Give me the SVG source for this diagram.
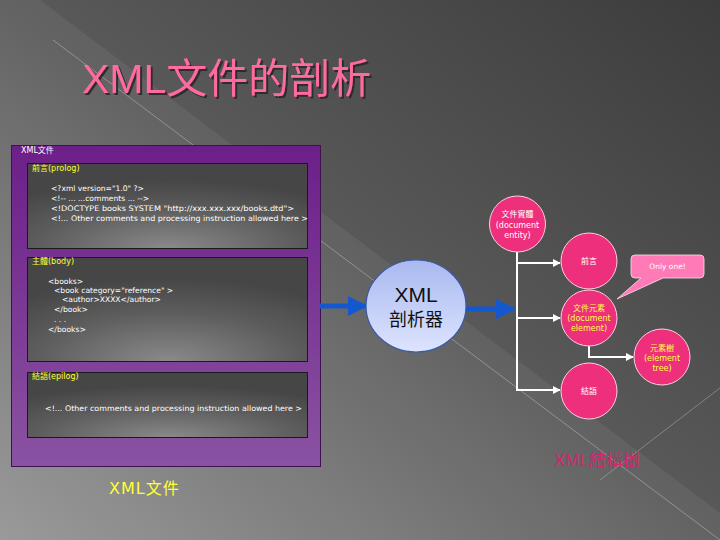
<svg xmlns="http://www.w3.org/2000/svg" width="720" height="540" viewBox="0 0 720 540">
<defs>
<linearGradient id="bg" x1="1" y1="0" x2="0" y2="1">
<stop offset="0" stop-color="#3c3c3c"/>
<stop offset="0.5" stop-color="#5a5a5a"/>
<stop offset="1" stop-color="#949494"/>
</linearGradient>
<linearGradient id="purp" x1="0" y1="0" x2="0" y2="1">
<stop offset="0" stop-color="#6c1f88"/>
<stop offset="1" stop-color="#8a52a2"/>
</linearGradient>
<radialGradient id="inner" cx="0.5" cy="1" r="0.8" fx="0.5" fy="1">
<stop offset="0" stop-color="#8a8a8a"/>
<stop offset="0.6" stop-color="#5c5c5c"/>
<stop offset="1" stop-color="#464646"/>
</radialGradient>
<linearGradient id="blue" x1="0" y1="0" x2="0" y2="1">
<stop offset="0" stop-color="#a9b9f0"/>
<stop offset="1" stop-color="#dde4ff"/>
</linearGradient>
<filter id="shadow" x="-5%" y="-20%" width="110%" height="140%">
<feDropShadow dx="2" dy="2" stdDeviation="0.6" flood-color="#2a2a2a" flood-opacity="0.9"/>
</filter>
<marker id="wa" viewBox="0 0 10 10" refX="9" refY="5" markerWidth="8" markerHeight="8" orient="auto" markerUnits="userSpaceOnUse">
<path d="M0,0 L10,5 L0,10 z" fill="#ffffff"/>
</marker>
<marker id="ba" viewBox="0 0 10 10" refX="9" refY="5" markerWidth="4" markerHeight="4" orient="auto">
<path d="M0,0 L10,5 L0,10 z" fill="#1458d0"/>
</marker>
</defs>
<style>
.code{font-family:"DejaVu Sans",sans-serif;font-size:7.6px;fill:#ffffff}
.lbl{font-family:"DejaVu Sans","Noto Sans CJK TC",sans-serif;font-size:8px;fill:#ffff33}
.inbox{fill:url(#inner);stroke:#1a1a1a;stroke-width:1}
.node{fill:#ee2f7c;stroke:#ffd0e0;stroke-width:1}
.nt{font-family:"DejaVu Sans","Noto Sans CJK TC",sans-serif;font-size:8px;text-anchor:middle}
.w{fill:#ffffff}
.y{fill:#ffff44}
.conn{stroke:#ffffff;stroke-width:2;fill:none}
</style>
<rect width="720" height="540" fill="url(#bg)"/>
<polygon points="0,0 40,0 720,513 720,540 0,540" fill="#ffffff" opacity="0.06"/>
<line x1="53" y1="40" x2="720" y2="540" stroke="#b8b8b8" stroke-width="0.8" opacity="0.7"/>
<line x1="600" y1="480" x2="720" y2="388" stroke="#b8b8b8" stroke-width="0.8" opacity="0.6"/>

<g id="title">
<text x="82" y="93" font-family="'Liberation Sans','Noto Sans CJK TC',sans-serif" font-size="41" fill="#ff6aa0" filter="url(#shadow)">XML文件的剖析</text>
</g>

<g id="xmlfile">
<rect x="11.5" y="145.5" width="309" height="321" fill="url(#purp)" stroke="#401050" stroke-width="1"/>
<text x="21" y="153" font-family="'DejaVu Sans','Noto Sans CJK TC',sans-serif" font-size="8" fill="#ffffff">XML文件</text>
</g>

<g id="prolog">
<rect class="inbox" x="27.5" y="163.5" width="280" height="85"/>
<text class="lbl" x="32" y="171">前言(prolog)</text>
<text class="code" x="51" y="191">&lt;?xml version="1.0" ?&gt;</text>
<text class="code" x="51" y="201">&lt;!-- ... ...comments ... --&gt;</text>
<text class="code" x="51" y="211" textLength="243" lengthAdjust="spacingAndGlyphs">&lt;!DOCTYPE books SYSTEM "http://xxx.xxx.xxx/books.dtd"&gt;</text>
<text class="code" x="51" y="221" textLength="257" lengthAdjust="spacingAndGlyphs">&lt;!... Other comments and processing instruction allowed here &gt;</text>
</g>

<g id="body">
<rect class="inbox" x="27.5" y="257.5" width="280" height="104"/>
<text class="lbl" x="32" y="264">主體(body)</text>
<text class="code" x="48" y="284">&lt;books&gt;</text>
<text class="code" x="54" y="293">&lt;book category="reference" &gt;</text>
<text class="code" x="62" y="302">&lt;author&gt;XXXX&lt;/author&gt;</text>
<text class="code" x="54" y="312">&lt;/book&gt;</text>
<text class="code" x="54" y="322">. . .</text>
<text class="code" x="48" y="332">&lt;/books&gt;</text>
</g>

<g id="epilog">
<rect class="inbox" x="27.5" y="372.5" width="280" height="65"/>
<text class="lbl" x="32" y="379">結語(epilog)</text>
<text class="code" x="45" y="411" textLength="257" lengthAdjust="spacingAndGlyphs">&lt;!... Other comments and processing instruction allowed here &gt;</text>
</g>

<g id="caption1">
<text x="109" y="494" font-family="'DejaVu Sans','Noto Sans CJK TC',sans-serif" font-size="16" fill="#ffff33" letter-spacing="1">XML文件</text>
</g>

<g id="connectors">
<line x1="320" y1="306" x2="366" y2="306" stroke="#1458d0" stroke-width="5" marker-end="url(#ba)"/>
<line x1="466" y1="309" x2="514" y2="309" stroke="#1458d0" stroke-width="5" marker-end="url(#ba)"/>
<line class="conn" x1="517" y1="252" x2="517" y2="391"/>
<line class="conn" x1="516" y1="263" x2="560" y2="263" marker-end="url(#wa)"/>
<line class="conn" x1="516" y1="318" x2="560" y2="318" marker-end="url(#wa)"/>
<line class="conn" x1="516" y1="390" x2="560" y2="390" marker-end="url(#wa)"/>
<polyline class="conn" points="589,346 589,357 633,357" marker-end="url(#wa)"/>
</g>

<g id="parser">
<ellipse cx="416" cy="306" rx="50" ry="46" fill="url(#blue)" stroke="#3a5aa8" stroke-width="1.2"/>
<text x="416" y="302" text-anchor="middle" font-family="'Liberation Sans',sans-serif" font-size="21" fill="#111111">XML</text>
<text x="416" y="326" text-anchor="middle" font-family="'Noto Sans CJK TC',sans-serif" font-size="18" fill="#111111">剖析器</text>
</g>

<g id="docentity">
<circle class="node" cx="517.5" cy="224" r="28"/>
<text class="nt w" x="517.5" y="217">文件實體</text>
<text class="nt w" x="517.5" y="228">(document</text>
<text class="nt w" x="517.5" y="238">entity)</text>
</g>

<g id="prolognode">
<circle class="node" cx="589" cy="261" r="28"/>
<text class="nt w" x="589" y="264">前言</text>
</g>

<g id="docelement">
<circle class="node" cx="589" cy="318" r="28"/>
<text class="nt y" x="589" y="311">文件元素</text>
<text class="nt y" x="589" y="321">(document</text>
<text class="nt y" x="589" y="331">element)</text>
</g>

<g id="elemtree">
<circle class="node" cx="662" cy="357" r="28"/>
<text class="nt y" x="662" y="351">元素樹</text>
<text class="nt y" x="662" y="361">(element</text>
<text class="nt y" x="662" y="371">tree)</text>
</g>

<g id="epilognode">
<circle class="node" cx="589" cy="391" r="28"/>
<text class="nt w" x="589" y="394">結語</text>
</g>

<g id="callout">
<path d="M635,255 H700 Q704,255 704,259 V274 Q704,278 700,278 H663 L617,299 L641,278 H635 Q631,278 631,274 V259 Q631,255 635,255 Z" fill="#ff7ab6" stroke="#ffe0ee" stroke-width="0.8"/>
<text x="667.5" y="269" text-anchor="middle" font-family="'DejaVu Sans',sans-serif" font-size="7.5" fill="#ffffff">Only one!</text>
</g>

<g id="caption2">
<text x="554" y="466" font-family="'Liberation Sans','Noto Sans CJK TC',sans-serif" font-size="17" fill="#d6246e">XML結構樹</text>
</g>
</svg>
